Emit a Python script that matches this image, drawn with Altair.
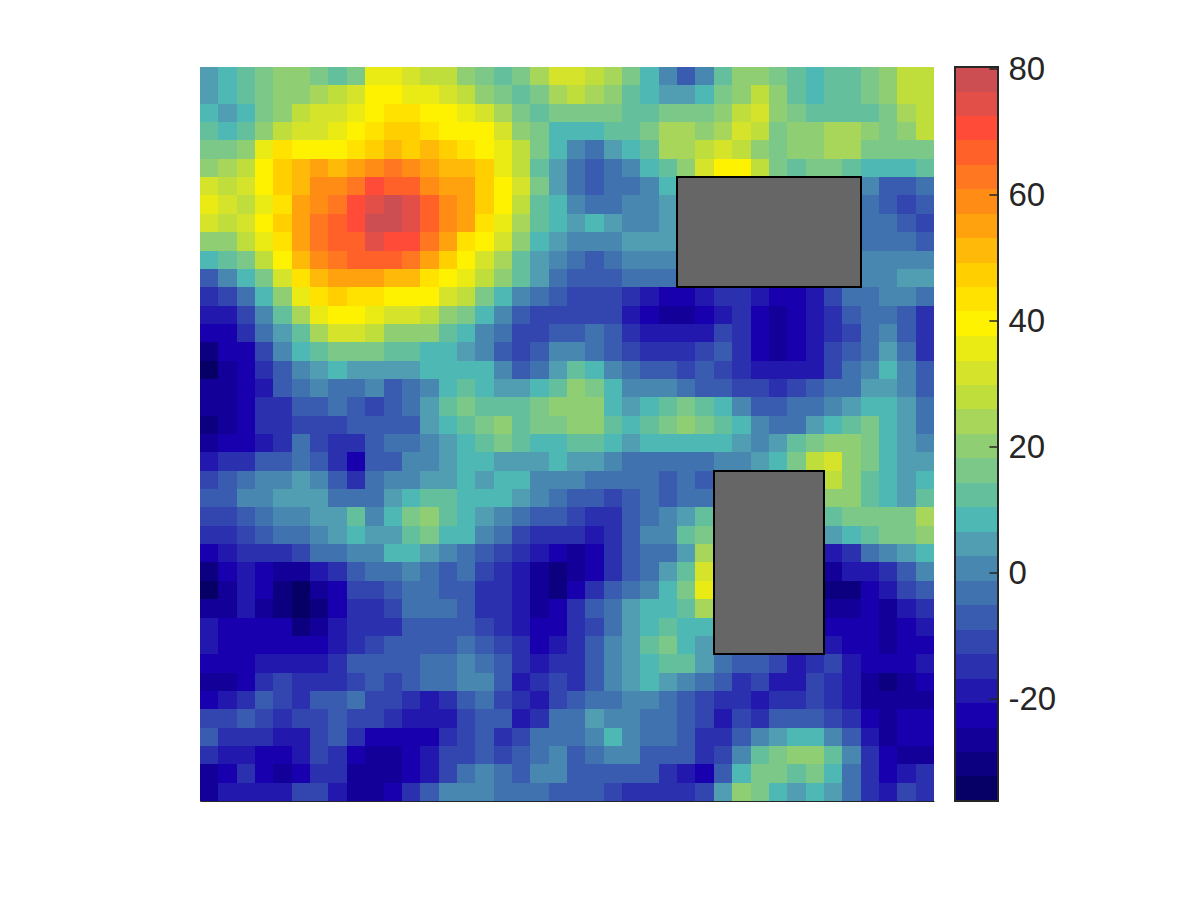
import altair as alt
import pandas as pd

grid = [
[5,10,14,18,20,20,16,14,16,34,37,33,28,26,22,18,13,15,23,33,30,28,25,17,10,2,-8,0,14,20,22,16,12,8,12,14,18,22,28,28],
[4,8,12,18,20,22,24,28,32,40,40,36,34,30,26,20,16,14,18,24,26,24,20,14,10,6,4,10,18,22,26,20,14,8,12,14,16,22,28,28],
[8,3,8,16,22,26,30,30,34,40,42,42,40,38,35,30,24,18,14,16,18,18,16,14,14,16,16,18,22,28,30,22,18,14,14,14,14,18,24,28],
[12,10,14,20,26,30,32,36,38,42,46,48,42,40,40,38,30,22,16,10,8,10,12,12,16,24,24,20,24,30,26,18,22,22,24,24,20,18,20,26],
[16,16,20,34,42,40,38,40,44,46,52,48,50,46,42,40,34,26,16,8,0,-2,4,8,14,24,24,26,30,28,22,18,22,22,24,24,18,16,16,16],
[22,24,28,40,48,50,54,52,56,60,62,60,56,52,52,46,36,26,14,4,-4,-8,-2,2,10,14,20,30,38,38,26,18,14,16,16,14,10,8,10,12],
[32,28,30,40,48,52,58,60,64,70,68,66,60,54,54,46,40,30,18,6,-4,-9,-5,-2,2,8,10,10,10,10,10,10,10,10,10,10,0,-6,-8,-4],
[36,30,28,36,44,54,60,64,72,76,78,76,66,58,54,46,38,26,14,8,0,-4,-2,0,2,6,5,5,5,5,5,5,5,5,5,5,-3,-6,-10,-8],
[30,28,30,38,46,54,62,66,72,78,78,74,68,60,56,44,36,24,14,8,6,10,6,2,0,3,3,3,3,3,3,3,3,3,3,3,-4,-4,-6,-10],
[20,22,26,34,44,56,62,66,68,74,72,70,62,54,44,38,30,20,10,4,2,2,1,3,6,5,2,2,2,2,2,2,2,2,2,2,-2,-3,-2,-6],
[8,12,18,28,40,50,58,64,66,68,66,62,56,46,38,32,24,14,6,0,-2,-6,-4,0,2,2,0,0,0,0,0,0,0,0,0,0,1,2,0,-1],
[-6,0,8,18,32,44,52,56,56,54,52,50,44,38,34,28,20,12,4,-2,-6,-8,-6,-4,-2,-4,-5,-5,-5,-5,-5,-5,-5,-5,-5,-5,0,2,6,3],
[-13,-10,-2,8,20,34,44,46,42,42,38,38,38,32,26,18,10,2,-2,-8,-12,-12,-10,-14,-20,-22,-24,-20,-16,-16,-20,-22,-22,-20,-10,-4,-2,2,2,-2],
[-20,-18,-10,2,12,24,34,40,38,34,32,30,28,22,16,8,0,-6,-10,-11,-12,-10,-12,-18,-24,-27,-25,-22,-18,-16,-24,-26,-24,-18,-13,-6,-2,-2,-6,-13],
[-24,-22,-16,-4,6,14,24,30,30,26,22,22,20,14,8,2,-4,-10,-11,-6,-8,-4,-8,-14,-18,-20,-20,-18,-12,-14,-24,-26,-24,-18,-13,-10,-2,0,-6,-16],
[-32,-24,-22,-10,0,8,12,16,18,16,14,12,10,8,6,2,-6,-12,-8,0,2,-2,-6,-10,-14,-14,-13,-12,-8,-14,-24,-26,-21,-18,-12,-8,-3,6,-2,-14],
[-34,-26,-22,-14,-6,0,4,10,4,4,4,6,10,8,8,8,0,-8,-4,6,14,8,2,-4,-6,-8,-10,-8,-10,-13,-20,-18,-18,-19,-10,-4,2,10,2,-8],
[-28,-26,-22,-18,-8,-3,0,-2,-2,0,-6,-2,2,8,14,10,6,6,8,14,22,18,8,2,2,0,-2,-6,-8,-10,-12,-13,-12,-8,-4,-2,4,6,0,-6],
[-26,-26,-24,-14,-14,-8,-7,-4,-6,-11,-8,-5,4,12,16,14,12,14,16,20,22,20,10,6,8,14,16,12,8,2,-6,-8,-5,-2,2,6,10,8,4,-4],
[-30,-26,-24,-16,-16,-10,-12,-10,-9,-8,-6,-8,4,10,14,18,22,12,16,18,22,20,12,10,12,16,20,16,12,8,0,-4,-2,4,8,12,16,10,4,-2],
[-26,-24,-22,-18,-13,-4,-10,-16,-15,-9,-4,-2,0,4,10,12,16,14,10,8,12,12,8,6,8,10,8,8,8,6,2,4,12,16,20,22,16,10,6,2],
[-18,-14,-13,-8,-6,-3,-8,-16,-22,-9,-6,-1,2,5,8,8,6,4,4,8,4,4,0,-5,-3,-2,-3,-2,2,0,4,10,18,26,30,22,16,8,4,6],
[-10,-8,-4,0,2,4,1,-8,-13,-5,0,2,4,6,10,6,10,10,2,0,0,-2,-5,-3,-2,-6,-4,-6,10,10,10,10,10,10,26,20,14,8,4,8],
[-8,-6,0,2,4,4,3,-2,-3,-2,4,8,14,14,10,8,8,4,0,-2,-6,-8,-12,-7,-2,-8,-4,-2,10,10,10,10,10,10,20,20,14,10,6,12],
[-10,-10,-6,-2,0,2,4,6,12,0,10,18,20,14,8,6,0,-4,-6,-8,-10,-16,-14,-9,-3,0,6,12,10,10,10,10,10,10,14,16,16,16,18,24],
[-16,-14,-10,-8,-4,-2,0,6,9,4,6,14,18,10,8,2,-4,-10,-14,-14,-16,-18,-13,-8,0,2,12,18,10,10,10,10,10,10,6,10,14,16,18,22],
[-22,-18,-16,-15,-14,-10,-5,-2,0,1,8,9,6,0,-4,-8,-10,-13,-18,-24,-26,-22,-14,-8,-4,-2,6,24,0,0,0,0,0,0,-18,-13,-2,2,6,10],
[-30,-24,-18,-22,-28,-26,-20,-14,-8,-4,-4,-1,-4,-6,-4,-10,-14,-18,-26,-32,-28,-22,-14,-8,-4,4,14,30,0,0,0,0,0,0,-28,-20,-20,-14,-6,2],
[-34,-26,-20,-24,-30,-34,-28,-22,-12,-10,-9,-3,-4,-8,-6,-14,-14,-20,-28,-30,-24,-14,-8,-2,2,8,18,34,0,0,0,0,0,0,-32,-30,-22,-20,-12,-8],
[-26,-26,-20,-26,-32,-34,-30,-24,-16,-13,-12,-5,-2,-4,-8,-14,-16,-20,-26,-24,-16,-8,-2,4,8,10,14,24,0,0,0,0,0,0,-26,-26,-24,-26,-20,-16],
[-20,-22,-24,-24,-24,-30,-28,-20,-13,-16,-13,-6,-6,-8,-7,-12,-14,-18,-22,-22,-16,-10,-3,4,10,14,10,8,0,0,0,0,0,0,-22,-22,-24,-28,-22,-18],
[-20,-22,-22,-22,-22,-22,-22,-18,-13,-10,-8,-9,-7,-7,-3,-8,-10,-14,-24,-20,-14,-8,2,6,14,18,10,6,0,0,0,0,0,0,-18,-22,-24,-26,-24,-22],
[-24,-24,-22,-18,-20,-18,-20,-13,-8,-9,-8,-8,-5,-4,0,-4,-8,-14,-20,-14,-14,-6,2,3,8,14,12,4,-4,-6,-8,-12,-18,-14,-12,-18,-24,-24,-22,-20],
[-28,-28,-24,-16,-12,-14,-16,-13,-12,-9,-10,-9,-5,-3,1,2,-8,-18,-14,-10,-15,-6,0,6,8,6,2,-3,-8,-13,-12,-20,-18,-12,-14,-19,-28,-30,-26,-24],
[-22,-18,-14,-7,-10,-14,-8,-6,-4,-10,-12,-16,-18,-15,-6,-3,-10,-16,-18,-10,-8,-2,-2,2,0,-2,-6,-12,-16,-14,-17,-14,-13,-11,-14,-18,-26,-28,-26,-26],
[-12,-10,-8,-10,-14,-12,-10,-6,-10,-12,-16,-18,-20,-18,-11,-7,-8,-18,-14,-4,-2,4,2,0,-4,-4,-8,-10,-18,-10,-13,-8,-7,-6,-10,-16,-24,-26,-24,-24],
[-8,-14,-16,-15,-17,-18,-12,-9,-16,-22,-22,-22,-22,-16,-12,-7,-13,-10,-5,-4,-4,2,8,2,-2,-3,-6,-13,-14,-6,0,6,10,8,2,-8,-20,-26,-24,-24],
[-16,-18,-20,-22,-22,-20,-12,-16,-22,-26,-26,-22,-18,-12,-10,-6,-12,-8,-2,0,-6,-2,2,0,-6,-8,-6,-14,-10,2,14,18,20,20,14,0,-13,-22,-26,-26],
[-26,-24,-16,-24,-26,-22,-14,-14,-26,-28,-28,-24,-17,-10,-4,0,-2,-8,0,2,-8,-6,-6,-8,-6,-13,-18,-22,-6,10,16,16,14,16,8,-3,-14,-22,-18,-14],
[-28,-20,-18,-18,-17,-12,-12,-18,-28,-26,-24,-16,-8,2,2,0,-4,-2,-2,-6,-8,-6,-12,-14,-14,-16,-14,-10,6,22,18,10,6,8,4,-4,-16,-18,-12,-14],
]

levels = [-36.2,-32.3,-28.4,-24.55,-20.65,-16.8,-12.9,-9.0,-5.1,-1.25,2.65,6.5,10.4,14.3,18.2,22.05,
          25.95,29.85,33.7,37.6,41.5,45.35,49.25,53.1,57.0,60.9,64.75,68.65,72.55,76.4,80.3]
colors = ["#060066","#0C0080","#120098","#1900AE","#2218AE","#2B30AE","#3346AF","#3A5CB0","#4072B0","#4888B0",
          "#519EB2","#4DB8B4","#64C09C","#7CC888","#90CE74","#A8D65A","#BFDE3C","#D5E42A","#EAEB14","#FFF200",
          "#FFE200","#FFCF00","#FFB908","#FFA20E","#FF8C14","#FF7720","#FF6128","#FF4B38","#E24E48","#CC4E52"]
cb_ticks = [-20, 0, 20, 40, 60, 80]
box_x = [26, 28]
box_x2 = [36, 34]
box_y = [6, 22]
box_y2 = [12, 32]

cells = pd.DataFrame(
    [{"c": c, "c2": c + 1, "r": r, "r2": r + 1, "v": v}
     for r, row in enumerate(grid) for c, v in enumerate(row)]
)
boxes = pd.DataFrame({"x": box_x, "x2": box_x2, "y": box_y, "y2": box_y2})
bands = pd.DataFrame({"lo": levels[:-1], "hi": levels[1:]})
ticks = pd.DataFrame({"t": cb_ticks, "a": [0.8] * len(cb_ticks), "b": [1.0] * len(cb_ticks)})
frame = pd.DataFrame({"a": [0.0], "b": [1.0], "lo": [levels[0]], "hi": [levels[-1]]})

color_scale = alt.Scale(type="threshold", domain=levels[1:-1], range=colors)
xs = alt.Scale(domain=[0, 40], nice=False, zero=False, round=True)
ys = alt.Scale(domain=[40, 0], nice=False, zero=False, round=True)
bare = dict(title=None, labels=False, ticks=False, grid=False, domain=True,
            domainColor="#262626", domainWidth=1)

heat = alt.Chart(cells).mark_rect().encode(
    x=alt.X("c:Q", scale=xs, axis=alt.Axis(**bare)),
    x2="c2:Q",
    y=alt.Y("r:Q", scale=ys, axis=alt.Axis(**bare)),
    y2="r2:Q",
    color=alt.Color("v:Q", scale=color_scale, legend=None),
)
rects = alt.Chart(boxes).mark_rect(fill="#666666", stroke="#000000", strokeWidth=2).encode(
    x=alt.X("x:Q", scale=xs), x2="x2:Q", y=alt.Y("y:Q", scale=ys), y2="y2:Q"
)
main = alt.layer(heat, rects).properties(
    width=734, height=734, view=alt.ViewBackground(stroke=None)
)

cbx = alt.Scale(domain=[0, 1], nice=False, zero=False)
cby = alt.Scale(domain=[levels[0], levels[-1]], nice=False, zero=False, round=True)
cb_bands = alt.Chart(bands).mark_rect().encode(
    x=alt.value(0),
    x2=alt.value(43),
    y=alt.Y("lo:Q", scale=cby, axis=alt.Axis(
        orient="right", title=None, values=cb_ticks, grid=False, domain=False,
        tickSize=0, labelPadding=10, labelFontSize=33, labelFont="Liberation Sans",
        labelColor="#262626", labelExpr="'' + datum.value", labelBound=False, labelFlush=False)),
    y2="hi:Q",
    color=alt.Color("lo:Q", scale=color_scale, legend=None),
)
cb_ticks_layer = alt.Chart(ticks).mark_rule(color="#262626", strokeWidth=1.5).encode(
    x=alt.X("a:Q", scale=cbx, axis=None),
    x2="b:Q",
    y=alt.Y("t:Q", scale=cby),
)
cb_frame = alt.Chart(frame).mark_rect(fillOpacity=0, stroke="#262626", strokeWidth=2).encode(
    x=alt.X("a:Q", scale=cbx, axis=None), x2="b:Q",
    y=alt.Y("lo:Q", scale=cby), y2="hi:Q",
)
colorbar = alt.layer(cb_bands, cb_ticks_layer, cb_frame).properties(width=43, height=734)

chart = alt.hconcat(main, colorbar, spacing=19).properties(
    padding={"left": 192, "top": 44, "right": 20, "bottom": 60},
    background="white",
).resolve_scale(color="independent", x="independent", y="independent")

chart.save("out.html", embed_options={"renderer": "svg", "actions": False})
